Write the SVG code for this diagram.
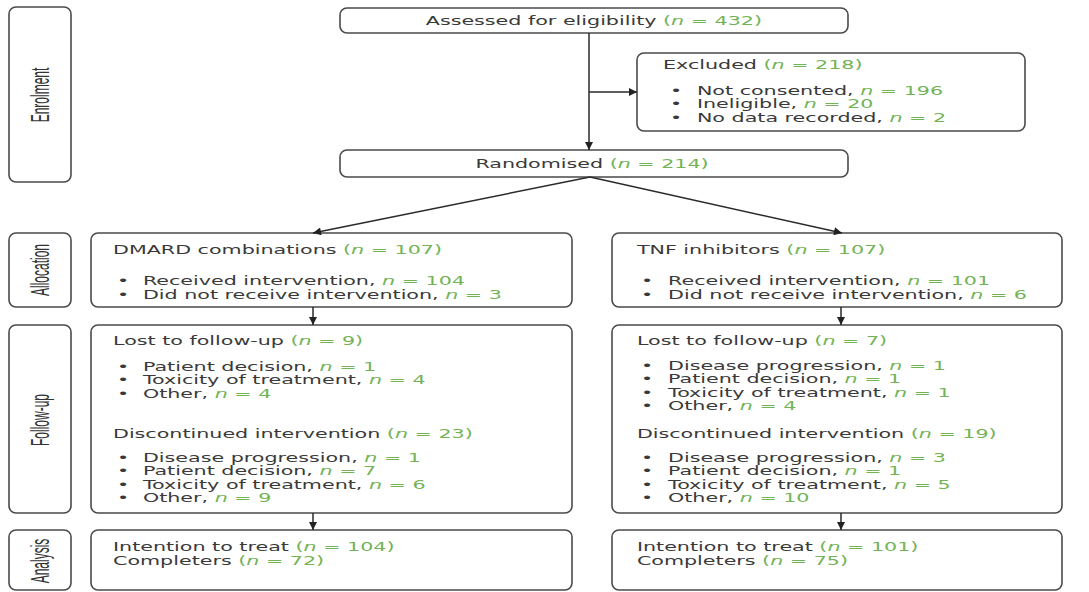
<svg xmlns="http://www.w3.org/2000/svg" width="1089" height="592" viewBox="0 0 1089 592">
<style>
.box{fill:#fff;stroke:#4a4a4a;stroke-width:1.6}
.lbl{font-family:"Liberation Sans",Arial,sans-serif;font-size:12px;fill:#333}
.t{font-family:"DejaVu Sans",Verdana,sans-serif;font-size:12px;fill:#3a3a3a}
.g{fill:#72b356}
.i{font-style:italic}
.c{text-anchor:middle}
.con{fill:none;stroke:#2a2a2a;stroke-width:1.5}
</style>
<defs>
<marker id="ah" viewBox="0 0 10 10" refX="10" refY="5" markerWidth="9" markerHeight="8" markerUnits="userSpaceOnUse" orient="auto">
<path d="M0,0 L10,5 L0,10 z" fill="#222"/>
</marker>
</defs>
<rect width="1089" height="592" fill="#fff"/>

<g id="phase-enrolment">
<rect class="box" x="9" y="7" width="62" height="175" rx="7"/>
<text class="lbl c" dominant-baseline="central" transform="translate(40,95) scale(2.1,1) rotate(-90)">Enrolment</text>
</g>
<g id="phase-allocation">
<rect class="box" x="9" y="233" width="62" height="74" rx="7"/>
<text class="lbl c" dominant-baseline="central" transform="translate(40,270) scale(2.1,1) rotate(-90)">Allocation</text>
</g>
<g id="phase-followup">
<rect class="box" x="9" y="325" width="62" height="188" rx="7"/>
<text class="lbl c" dominant-baseline="central" transform="translate(40,420) scale(2.1,1) rotate(-90)">Follow-up</text>
</g>
<g id="phase-analysis">
<rect class="box" x="9" y="530" width="62" height="60" rx="7"/>
<text class="lbl c" dominant-baseline="central" transform="translate(40,561) scale(2.1,1) rotate(-90)">Analysis</text>
</g>

<g id="assessed">
<rect class="box" x="340" y="8" width="508" height="25" rx="7"/>
<g transform="scale(1.72,1)"><text class="t c" x="345.3" y="25">Assessed for eligibility <tspan class="g">(<tspan class="i">n</tspan> = 432)</tspan></text></g>
</g>

<g id="excluded">
<rect class="box" x="637" y="53" width="388" height="78" rx="7"/>
<g transform="scale(1.72,1)">
<text class="t" x="385.5" y="69">Excluded <tspan class="g">(<tspan class="i">n</tspan> = 218)</tspan></text>
<text class="t" x="389.5" y="95">•</text><text class="t" x="405.2" y="95">Not consented, <tspan class="g"><tspan class="i">n</tspan> = 196</tspan></text>
<text class="t" x="389.5" y="108.5">•</text><text class="t" x="405.2" y="108.5">Ineligible, <tspan class="g"><tspan class="i">n</tspan> = 20</tspan></text>
<text class="t" x="389.5" y="122">•</text><text class="t" x="405.2" y="122">No data recorded, <tspan class="g"><tspan class="i">n</tspan> = 2</tspan></text>
</g>
</g>

<g id="randomised">
<rect class="box" x="340" y="150" width="508" height="27" rx="7"/>
<g transform="scale(1.72,1)"><text class="t c" x="344.2" y="168">Randomised <tspan class="g">(<tspan class="i">n</tspan> = 214)</tspan></text></g>
</g>

<g id="dmard-allocation">
<rect class="box" x="91" y="233" width="481" height="74" rx="7"/>
<g transform="scale(1.72,1)">
<text class="t" x="65.7" y="254">DMARD combinations <tspan class="g">(<tspan class="i">n</tspan> = 107)</tspan></text>
<text class="t" x="68" y="285">•</text><text class="t" x="83.1" y="285">Received intervention, <tspan class="g"><tspan class="i">n</tspan> = 104</tspan></text>
<text class="t" x="68" y="299">•</text><text class="t" x="83.1" y="299">Did not receive intervention, <tspan class="g"><tspan class="i">n</tspan> = 3</tspan></text>
</g>
</g>

<g id="tnf-allocation">
<rect class="box" x="612" y="233" width="450" height="74" rx="7"/>
<g transform="scale(1.72,1)">
<text class="t" x="370.3" y="254">TNF inhibitors <tspan class="g">(<tspan class="i">n</tspan> = 107)</tspan></text>
<text class="t" x="372.7" y="285">•</text><text class="t" x="388.4" y="285">Received intervention, <tspan class="g"><tspan class="i">n</tspan> = 101</tspan></text>
<text class="t" x="372.7" y="299">•</text><text class="t" x="388.4" y="299">Did not receive intervention, <tspan class="g"><tspan class="i">n</tspan> = 6</tspan></text>
</g>
</g>

<g id="dmard-followup">
<rect class="box" x="91" y="325" width="481" height="188" rx="7"/>
<g transform="scale(1.72,1)">
<text class="t" x="65.7" y="345">Lost to follow-up <tspan class="g">(<tspan class="i">n</tspan> = 9)</tspan></text>
<text class="t" x="68" y="371">•</text><text class="t" x="83.1" y="371">Patient decision, <tspan class="g"><tspan class="i">n</tspan> = 1</tspan></text>
<text class="t" x="68" y="384.5">•</text><text class="t" x="83.1" y="384.5">Toxicity of treatment, <tspan class="g"><tspan class="i">n</tspan> = 4</tspan></text>
<text class="t" x="68" y="398">•</text><text class="t" x="83.1" y="398">Other, <tspan class="g"><tspan class="i">n</tspan> = 4</tspan></text>
<text class="t" x="65.7" y="438">Discontinued intervention <tspan class="g">(<tspan class="i">n</tspan> = 23)</tspan></text>
<text class="t" x="68" y="462">•</text><text class="t" x="83.1" y="462">Disease progression, <tspan class="g"><tspan class="i">n</tspan> = 1</tspan></text>
<text class="t" x="68" y="475.5">•</text><text class="t" x="83.1" y="475.5">Patient decision, <tspan class="g"><tspan class="i">n</tspan> = 7</tspan></text>
<text class="t" x="68" y="489">•</text><text class="t" x="83.1" y="489">Toxicity of treatment, <tspan class="g"><tspan class="i">n</tspan> = 6</tspan></text>
<text class="t" x="68" y="502.5">•</text><text class="t" x="83.1" y="502.5">Other, <tspan class="g"><tspan class="i">n</tspan> = 9</tspan></text>
</g>
</g>

<g id="tnf-followup">
<rect class="box" x="612" y="325" width="450" height="188" rx="7"/>
<g transform="scale(1.72,1)">
<text class="t" x="370.3" y="345">Lost to follow-up <tspan class="g">(<tspan class="i">n</tspan> = 7)</tspan></text>
<text class="t" x="372.7" y="370">•</text><text class="t" x="388.4" y="370">Disease progression, <tspan class="g"><tspan class="i">n</tspan> = 1</tspan></text>
<text class="t" x="372.7" y="383.5">•</text><text class="t" x="388.4" y="383.5">Patient decision, <tspan class="g"><tspan class="i">n</tspan> = 1</tspan></text>
<text class="t" x="372.7" y="397">•</text><text class="t" x="388.4" y="397">Toxicity of treatment, <tspan class="g"><tspan class="i">n</tspan> = 1</tspan></text>
<text class="t" x="372.7" y="410.5">•</text><text class="t" x="388.4" y="410.5">Other, <tspan class="g"><tspan class="i">n</tspan> = 4</tspan></text>
<text class="t" x="370.3" y="438">Discontinued intervention <tspan class="g">(<tspan class="i">n</tspan> = 19)</tspan></text>
<text class="t" x="372.7" y="462">•</text><text class="t" x="388.4" y="462">Disease progression, <tspan class="g"><tspan class="i">n</tspan> = 3</tspan></text>
<text class="t" x="372.7" y="475.5">•</text><text class="t" x="388.4" y="475.5">Patient decision, <tspan class="g"><tspan class="i">n</tspan> = 1</tspan></text>
<text class="t" x="372.7" y="489">•</text><text class="t" x="388.4" y="489">Toxicity of treatment, <tspan class="g"><tspan class="i">n</tspan> = 5</tspan></text>
<text class="t" x="372.7" y="502.5">•</text><text class="t" x="388.4" y="502.5">Other, <tspan class="g"><tspan class="i">n</tspan> = 10</tspan></text>
</g>
</g>

<g id="dmard-analysis">
<rect class="box" x="91" y="530" width="481" height="60" rx="7"/>
<g transform="scale(1.72,1)">
<text class="t" x="65.7" y="551">Intention to treat <tspan class="g">(<tspan class="i">n</tspan> = 104)</tspan></text>
<text class="t" x="65.7" y="565">Completers <tspan class="g">(<tspan class="i">n</tspan> = 72)</tspan></text>
</g>
</g>

<g id="tnf-analysis">
<rect class="box" x="612" y="530" width="450" height="60" rx="7"/>
<g transform="scale(1.72,1)">
<text class="t" x="370.3" y="551">Intention to treat <tspan class="g">(<tspan class="i">n</tspan> = 101)</tspan></text>
<text class="t" x="370.3" y="565">Completers <tspan class="g">(<tspan class="i">n</tspan> = 75)</tspan></text>
</g>
</g>

<g id="connectors">
<path class="con" d="M589,33 V150" marker-end="url(#ah)"/>
<path class="con" d="M589,92 H637" marker-end="url(#ah)"/>
<path class="con" d="M590,177 L313,233" marker-end="url(#ah)"/>
<path class="con" d="M590,177 L842,233" marker-end="url(#ah)"/>
<path class="con" d="M313,307 V325" marker-end="url(#ah)"/>
<path class="con" d="M841,307 V325" marker-end="url(#ah)"/>
<path class="con" d="M313,513 V530" marker-end="url(#ah)"/>
<path class="con" d="M841,513 V530" marker-end="url(#ah)"/>
</g>
</svg>
